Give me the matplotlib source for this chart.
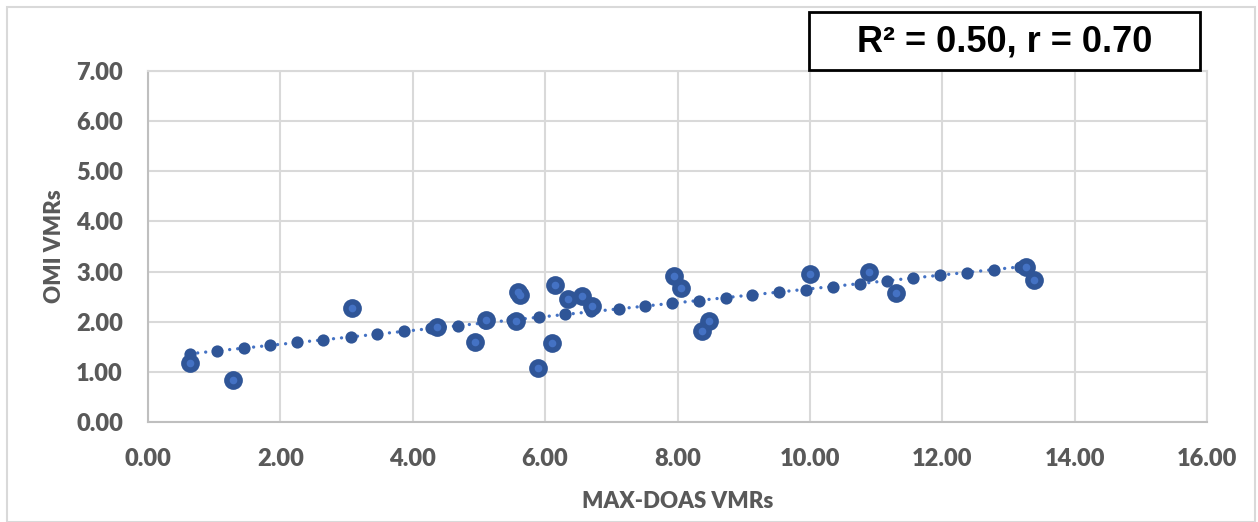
import numpy as np
import matplotlib
matplotlib.use("Agg")
import matplotlib.pyplot as plt
from matplotlib.patches import Rectangle

# Observed points (large markers)
obs_x = [0.63, 1.29, 3.08, 4.36, 4.94, 5.10, 5.56, 5.59, 5.62, 5.89, 6.10, 6.15,
         6.34, 6.55, 6.71, 7.95, 8.06, 8.37, 8.47, 10.00, 10.89, 11.30, 13.27, 13.39]
obs_y = [1.18, 0.84, 2.28, 1.90, 1.59, 2.03, 2.01, 2.60, 2.54, 1.08, 1.57, 2.73,
         2.46, 2.52, 2.31, 2.91, 2.68, 1.81, 2.01, 2.95, 2.99, 2.57, 3.09, 2.84]

# Predicted points (small markers on the trend)
pred_x = [0.63, 1.04, 1.45, 1.85, 2.25, 2.65, 3.06, 3.46, 3.87, 4.28, 4.69, 5.09,
          5.50, 5.90, 6.30, 6.70, 7.11, 7.51, 7.92, 8.32, 8.73, 9.13, 9.54, 9.94,
          10.35, 10.75, 11.16, 11.56, 11.97, 12.37, 12.78, 13.18]
pred_y = [1.35, 1.41, 1.47, 1.53, 1.59, 1.64, 1.69, 1.75, 1.81, 1.87, 1.92, 1.98,
          2.04, 2.09, 2.15, 2.22, 2.26, 2.31, 2.38, 2.42, 2.48, 2.54, 2.59, 2.64,
          2.70, 2.76, 2.81, 2.87, 2.93, 2.98, 3.04, 3.09]

x_ticks = [0, 2, 4, 6, 8, 10, 12, 14, 16]
y_ticks = [0, 1, 2, 3, 4, 5, 6, 7]
stat_text = "R² = 0.50, r = 0.70"
x_label = "MAX-DOAS VMRs"
y_label = "OMI VMRs"

W, H = 1258, 522
fig = plt.figure(figsize=(W / 100, H / 100), dpi=100)
fig.patch.set_facecolor("white")

# chart area border
fig.patches.append(Rectangle((7 / W, 0.5 / H), (1255 - 7) / W, (H - 7 - 0.5) / H,
                             transform=fig.transFigure, fill=False,
                             edgecolor="#D9D9D9", linewidth=1.5))

ax = fig.add_axes([148 / W, (H - 422) / H, (1207 - 148) / W, (422 - 71) / H])
ax.set_xlim(0, 16)
ax.set_ylim(0, 7)
ax.set_xticks(x_ticks)
ax.set_yticks(y_ticks)
ax.set_xticklabels([f"{v:.2f}" for v in x_ticks])
ax.set_yticklabels([f"{v:.2f}" for v in y_ticks])

grid_c = "#D9D9D9"
ax.grid(True, color=grid_c, linewidth=1.5, zorder=0)
ax.set_axisbelow(True)
for s in ["top", "right"]:
    ax.spines[s].set_color(grid_c)
    ax.spines[s].set_linewidth(1.5)
for s in ["left", "bottom"]:
    ax.spines[s].set_color("#BFBFBF")
    ax.spines[s].set_linewidth(1.5)
ax.tick_params(axis="x", length=0, pad=19, labelsize=17, labelcolor="#595959")
ax.tick_params(axis="y", length=0, pad=18, labelsize=17, labelcolor="#595959")
for lab in ax.get_xticklabels() + ax.get_yticklabels():
    lab.set_fontfamily("Lato")
    lab.set_fontweight("heavy")

# trend line fitted through the predicted series
coef = np.polyfit(pred_x, pred_y, 1)
tx = np.array([min(pred_x), max(pred_x)])
ax.plot(tx, np.polyval(coef, tx), color="#4472C4", linewidth=2.4,
        linestyle=(0, (0.01, 2.4)), dash_capstyle="round", zorder=2)

dark = "#2F5597"
light = "#4472C4"
ax.plot(pred_x, pred_y, "o", color=dark, markersize=8.8, markeredgewidth=0, zorder=3)
ax.plot(obs_x, obs_y, "o", color=dark, markersize=13.5, markeredgewidth=0, zorder=4)
ax.plot(obs_x, obs_y, "o", color=light, markersize=5.5, markeredgewidth=0, zorder=5)

ax.set_xlabel(x_label, fontsize=16, fontweight="heavy", color="#595959",
              family="Lato", labelpad=15)
ax.set_ylabel(y_label, fontsize=16, fontweight="heavy", color="#595959",
              family="Lato", labelpad=8)

# statistics box
fig.patches.append(Rectangle((809 / W, (H - 70) / H), (1200 - 809) / W, (70 - 12) / H,
                             transform=fig.transFigure, fill=True, facecolor="white",
                             edgecolor="black", linewidth=2))
fig.text(1005 / W, (H - 42) / H, stat_text, ha="center", va="center",
         fontsize=26, fontweight="bold", family="Liberation Sans", color="black")

fig.savefig("out.png", dpi=100)
